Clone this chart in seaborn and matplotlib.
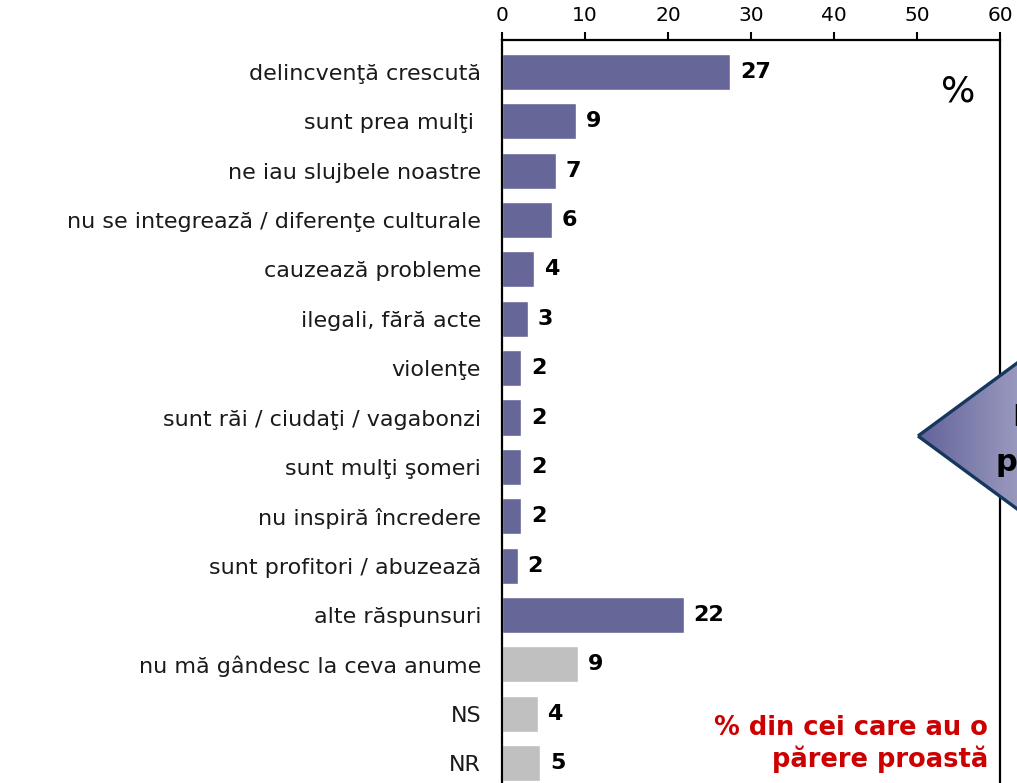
import numpy as np
import pandas as pd
import matplotlib
matplotlib.use("Agg")
import matplotlib.pyplot as plt
from matplotlib.patches import Polygon
from matplotlib.colors import LinearSegmentedColormap
import seaborn as sns

# data
categories = [
    "delincvenţă crescută",
    "sunt prea mulţi ",
    "ne iau slujbele noastre",
    "nu se integrează / diferenţe culturale",
    "cauzează probleme",
    "ilegali, fără acte",
    "violenţe",
    "sunt răi / ciudaţi / vagabonzi",
    "sunt mulţi şomeri",
    "nu inspiră încredere",
    "sunt profitori / abuzează",
    "alte răspunsuri",
    "nu mă gândesc la ceva anume",
    "NS",
    "NR",
]
values = [27.5, 8.9, 6.5, 6.0, 3.9, 3.1, 2.3, 2.3, 2.3, 2.3, 1.9, 21.9, 9.2, 4.3, 4.6]
shown = [27, 9, 7, 6, 4, 3, 2, 2, 2, 2, 2, 22, 9, 4, 5]
group = ["motiv"] * 12 + ["fara"] * 3

df = pd.DataFrame({"cat": categories, "val": values, "grp": group})

sns.set_style("white")
plt.rcParams["font.family"] = ["DejaVu Sans"]

fig = plt.figure(figsize=(10.17, 7.83), dpi=100)
W, H = 1017, 783
ax = fig.add_axes([502 / W, -12 / H, 498 / W, 755 / H])

sns.barplot(data=df, x="val", y="cat", hue="grp", dodge=False, legend=False,
            palette={"motiv": "#666699", "fara": "#C0C0C0"}, width=0.73,
            saturation=1, ax=ax)

ax.set_xlim(0, 60)
ax.set_ylim(14.65, -0.65)
ax.set_xticks(range(0, 61, 10))
ax.xaxis.tick_top()
ax.tick_params(axis="x", direction="out", length=6, width=1.5, pad=5,
               labelsize=14.5, colors="black")
ax.tick_params(axis="y", length=0, pad=15, labelsize=16, labelcolor="#1a1a1a")
ax.set_xlabel("")
ax.set_ylabel("")
for s in ["top", "left", "right"]:
    ax.spines[s].set_visible(True)
    ax.spines[s].set_linewidth(1.6)
    ax.spines[s].set_color("black")
ax.spines["bottom"].set_visible(False)

for i, (v, lab) in enumerate(zip(values, shown)):
    ax.annotate(str(lab), (v, i), xytext=(7, 0), textcoords="offset points",
                ha="left", va="center", fontsize=16, fontweight="bold",
                color="black")

# overlay in pixel coords for the annotations
ov = fig.add_axes([0, 0, 1, 1], zorder=5)
ov.set_xlim(0, W)
ov.set_ylim(H, 0)
ov.axis("off")

ov.text(958, 92, "%", fontsize=26, ha="center", va="center", color="black")
ov.text(988, 744, "% din cei care au o\npărere proastă", ha="right",
        va="center", fontsize=18.5, fontweight="bold", color="#CC0000",
        linespacing=1.2)

# arrow shape, cut by the right edge
tri = Polygon([(918, 436), (1130, 280), (1130, 592)], closed=True,
              facecolor="none", edgecolor="#17375E", linewidth=2.4, zorder=3)
grad = np.linspace(0, 1, 256).reshape(1, -1)
cmap = LinearSegmentedColormap.from_list("g", ["#62629A", "#B0B0CE"])
im = ov.imshow(grad, cmap=cmap, extent=(918, 1060, 600, 270), aspect="auto",
               zorder=2)
ov.add_patch(tri)
clip = Polygon([(918, 436), (1130, 280), (1130, 592)], closed=True,
               transform=ov.transData)
im.set_clip_path(clip)
ov.set_xlim(0, W)
ov.set_ylim(H, 0)
ov.text(1012, 418, "Imagine", fontsize=22, fontweight="bold", ha="left",
        va="center", color="black", zorder=4)
ov.text(995, 462, "proastă", fontsize=22, fontweight="bold", ha="left",
        va="center", color="black", zorder=4)

fig.savefig("out.png", dpi=100)
